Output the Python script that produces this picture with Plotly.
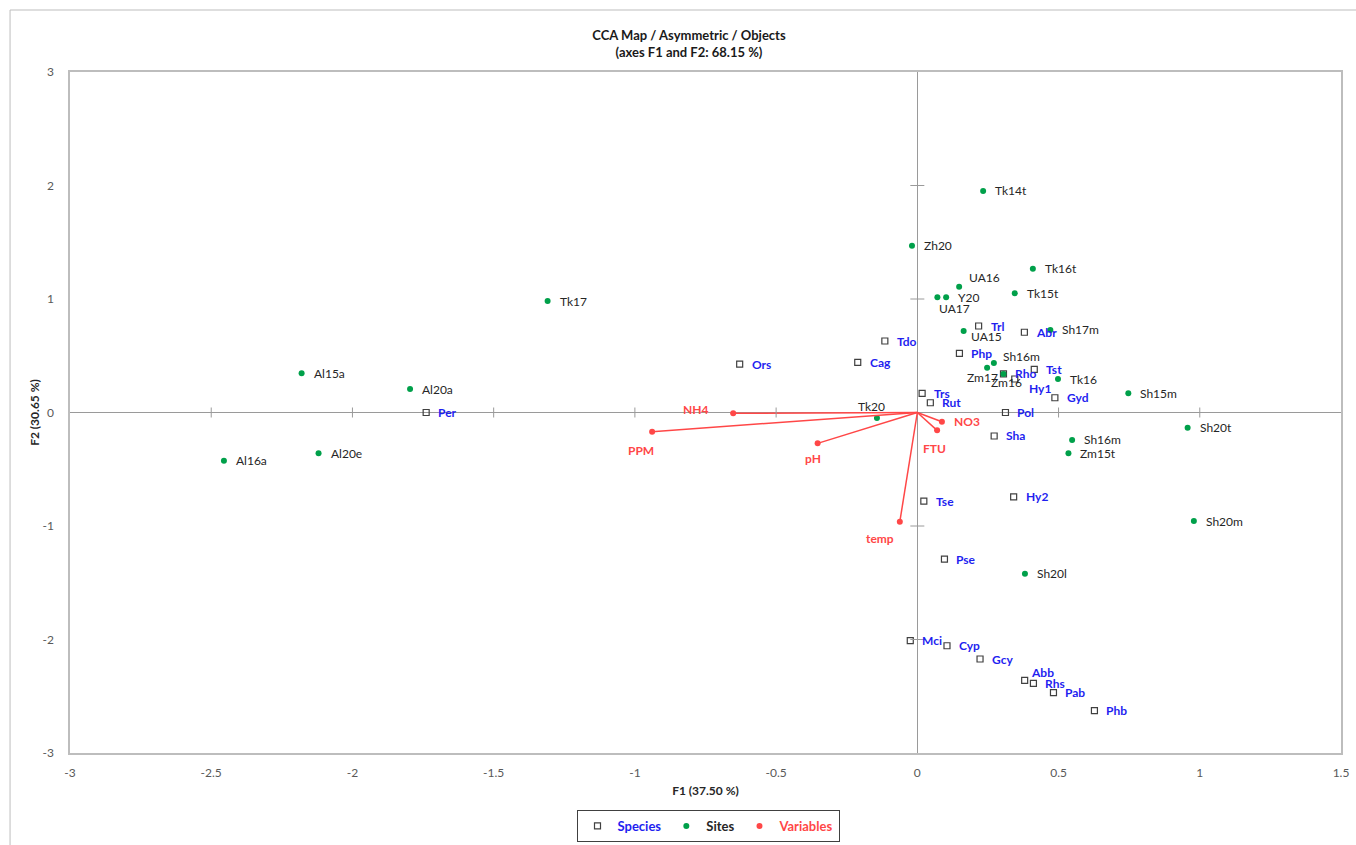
import plotly.graph_objects as go

# ---- CCA scores (F1, F2) ----
species_names = ["Per", "Ors", "Cag", "Tdo", "Trl", "Abr", "Php", "Rho", "Hy1", "Tst",
                 "Gyd", "Trs", "Rut", "Pol", "Sha", "Tse", "Hy2", "Pse", "Mci", "Cyp",
                 "Gcy", "Abb", "Rhs", "Pab", "Phb"]
species_f1 = [-1.739, -0.629, -0.211, -0.115, 0.217, 0.379, 0.149, 0.305, 0.345, 0.414,
              0.487, 0.017, 0.046, 0.312, 0.272, 0.023, 0.341, 0.096, -0.025, 0.105,
              0.222, 0.380, 0.411, 0.482, 0.627]
species_f2 = [0.000, 0.427, 0.442, 0.630, 0.762, 0.707, 0.521, 0.340, 0.295, 0.380,
              0.130, 0.169, 0.086, 0.000, -0.207, -0.780, -0.744, -1.291, -2.010, -2.055,
              -2.172, -2.360, -2.386, -2.468, -2.627]

site_names = ["Al15a", "Al16a", "Al20a", "Al20e", "Tk17", "Tk20", "Zh20", "UA16", "UA17",
              "Y20", "UA15", "Tk14t", "Tk16t", "Tk15t", "Sh17m", "Sh16m", "Zm17", "Zm16",
              "Tk16", "Sh15m", "Sh20t", "Sh16m", "Zm15t", "Sh20m", "Sh20l"]
site_f1 = [-2.180, -2.455, -1.796, -2.120, -1.309, -0.143, -0.019, 0.148, 0.071,
           0.102, 0.164, 0.233, 0.409, 0.345, 0.471, 0.271, 0.247, 0.305,
           0.498, 0.747, 0.957, 0.548, 0.535, 0.979, 0.381]
site_f2 = [0.345, -0.425, 0.207, -0.360, 0.982, -0.048, 1.470, 1.108, 1.015,
           1.015, 0.718, 1.952, 1.267, 1.050, 0.727, 0.436, 0.395, 0.340,
           0.295, 0.169, -0.134, -0.242, -0.360, -0.956, -1.420]

var_names = ["NH4", "PPM", "pH", "NO3", "FTU", "temp"]
var_f1 = [-0.652, -0.939, -0.353, 0.087, 0.070, -0.062]
var_f2 = [-0.007, -0.169, -0.272, -0.081, -0.157, -0.962]

x_ticks = [-3, -2.5, -2, -1.5, -1, -0.5, 0, 0.5, 1, 1.5]
y_ticks = [-3, -2, -1, 0, 1, 2, 3]

# ---- styling ----
FONT = "Lato"
BLUE = "#1f1ff0"
GREEN = "#00a04a"
RED = "#ff4747"
SITE_TXT = "#262626"
AXIS_GRAY = "#9a9a9a"
FRAME_GRAY = "#bdbdbd"

# label placement (pixel shifts from the point; default: right of the point)
DEFAULT_SHIFT = (10, 0, "left")
label_shift = {
    "UA17": (0, -11, "left"),
    "UA16": (8, 9, "left"),
    "UA15": (5, -5, "left"),
    "Zm17": (-22, -10, "left"),
    "Zm16": (-14, -9, "left"),
    "Hy1": (12, -9, "left"),
    "Tk20": (-5, 11, "center"),
    "NH4": (-23, 4, "right"),
    "PPM": (-11, -19, "center"),
    "pH": (-5, -15, "center"),
    "FTU": (-3, -18, "center"),
    "temp": (-20, -17, "center"),
    "Abb": (4, 8, "left"),
}


def label_annotations(names, xs, ys, color, bold):
    anns = []
    for n, x, y in zip(names, xs, ys):
        dx, dy, anchor = label_shift.get(n, DEFAULT_SHIFT)
        if n == "Sh16m" and y > 0:
            dx, dy, anchor = (7, 7, "left")
        anns.append(dict(
            x=x, y=y, xref="x", yref="y",
            text=f"<b>{n}</b>" if bold else n,
            showarrow=False, xanchor=anchor, yanchor="middle",
            xshift=dx, yshift=dy,
            font=dict(family=FONT, size=12, color=color),
        ))
    return anns


def legend_label(text, color):
    return f"<span style='color:{color};font-weight:bold'>{text}</span>"


fig = go.Figure()

# species: hollow squares
fig.add_trace(go.Scatter(
    x=species_f1, y=species_f2, mode="markers",
    name=legend_label("Species", BLUE),
    marker=dict(symbol="square-open", size=6, color="#404040", line=dict(width=1.2)),
    hoverinfo="text", text=species_names,
))

# sites: green dots
fig.add_trace(go.Scatter(
    x=site_f1, y=site_f2, mode="markers",
    name=legend_label("Sites", SITE_TXT),
    marker=dict(symbol="circle", size=6, color=GREEN),
    hoverinfo="text", text=site_names,
))

# environmental variables: arrows from the origin
vx, vy = [], []
for x, y in zip(var_f1, var_f2):
    vx += [0, x, None]
    vy += [0, y, None]
fig.add_trace(go.Scatter(
    x=vx, y=vy, mode="lines", showlegend=False, hoverinfo="skip",
    line=dict(color=RED, width=1.5),
))
fig.add_trace(go.Scatter(
    x=var_f1, y=var_f2, mode="markers",
    name=legend_label("Variables", RED),
    marker=dict(symbol="circle", size=6, color=RED),
    hoverinfo="text", text=var_names,
))

annotations = []
annotations += label_annotations(species_names, species_f1, species_f2, BLUE, True)
annotations += label_annotations(site_names, site_f1, site_f2, SITE_TXT, False)
annotations += label_annotations(var_names, var_f1, var_f2, RED, True)

# cross tick marks along the zero axes
shapes = []
for t in x_ticks:
    if t in (-3, 1.5, 0):
        continue
    shapes.append(dict(type="line", xref="x", yref="y", x0=t, x1=t,
                       ysizemode="pixel", yanchor=0, y0=-5, y1=5,
                       line=dict(color=AXIS_GRAY, width=1)))
for t in y_ticks:
    if t in (-3, 3, 0):
        continue
    shapes.append(dict(type="line", xref="x", yref="y", y0=t, y1=t,
                       xsizemode="pixel", xanchor=0, x0=-7, x1=7,
                       line=dict(color=AXIS_GRAY, width=1)))

# outer chart frame
shapes.append(dict(type="rect", xref="paper", yref="paper",
                   x0=(10 - 70) / 1272, x1=1.06, y0=-0.25, y1=(753 - 10) / 681,
                   line=dict(color=FRAME_GRAY, width=1), fillcolor="rgba(0,0,0,0)",
                   layer="below"))


def fmt(v):
    return f"{v:g}"


fig.update_layout(
    width=1356, height=845,
    margin=dict(l=70, r=15, t=72, b=92, autoexpand=False),
    paper_bgcolor="white", plot_bgcolor="white",
    font=dict(family=FONT, size=12, color="#595959"),
    title=dict(
        text="<b>CCA Map / Asymmetric / Objects</b><br><b>(axes F1 and F2: 68.15 %)</b>",
        x=689 / 1356, xanchor="center", xref="container",
        y=1 - 40 / 845, yanchor="middle", yref="container",
        font=dict(family=FONT, size=13, color="#1a1a1a"),
    ),
    xaxis=dict(
        range=[-3, 1.5], tickvals=x_ticks, ticktext=[fmt(v) for v in x_ticks],
        showgrid=False, zeroline=True, zerolinecolor=AXIS_GRAY, zerolinewidth=1,
        showline=True, mirror=True, linecolor=FRAME_GRAY, linewidth=1.5,
        ticks="", ticklabelstandoff=8, automargin=False,
        tickfont=dict(family=FONT, size=12, color="#595959"),
        title=dict(text="<b>F1 (37.50 %)</b>", standoff=7,
                   font=dict(family=FONT, size=12, color="#262626")),
    ),
    yaxis=dict(
        range=[-3, 3], tickvals=y_ticks, ticktext=[fmt(v) for v in y_ticks],
        showgrid=False, zeroline=True, zerolinecolor=AXIS_GRAY, zerolinewidth=1,
        showline=True, mirror=True, linecolor=FRAME_GRAY, linewidth=1.5,
        ticks="", ticklabelstandoff=12, automargin=False,
        tickfont=dict(family=FONT, size=12, color="#595959"),
        title=dict(text="<b>F2 (30.65 %)</b>", standoff=0,
                   font=dict(family=FONT, size=12, color="#262626")),
    ),
    legend=dict(
        orientation="h", xref="container", yref="container",
        x=708 / 1356, xanchor="center", y=1 - 810 / 845, yanchor="top",
        bordercolor="#404040", borderwidth=1, bgcolor="white",
        font=dict(family=FONT, size=13, color="#262626", weight="bold"),
        itemwidth=30,
    ),
    annotations=annotations,
    shapes=shapes,
    showlegend=True,
)

fig.write_html("out.html")
